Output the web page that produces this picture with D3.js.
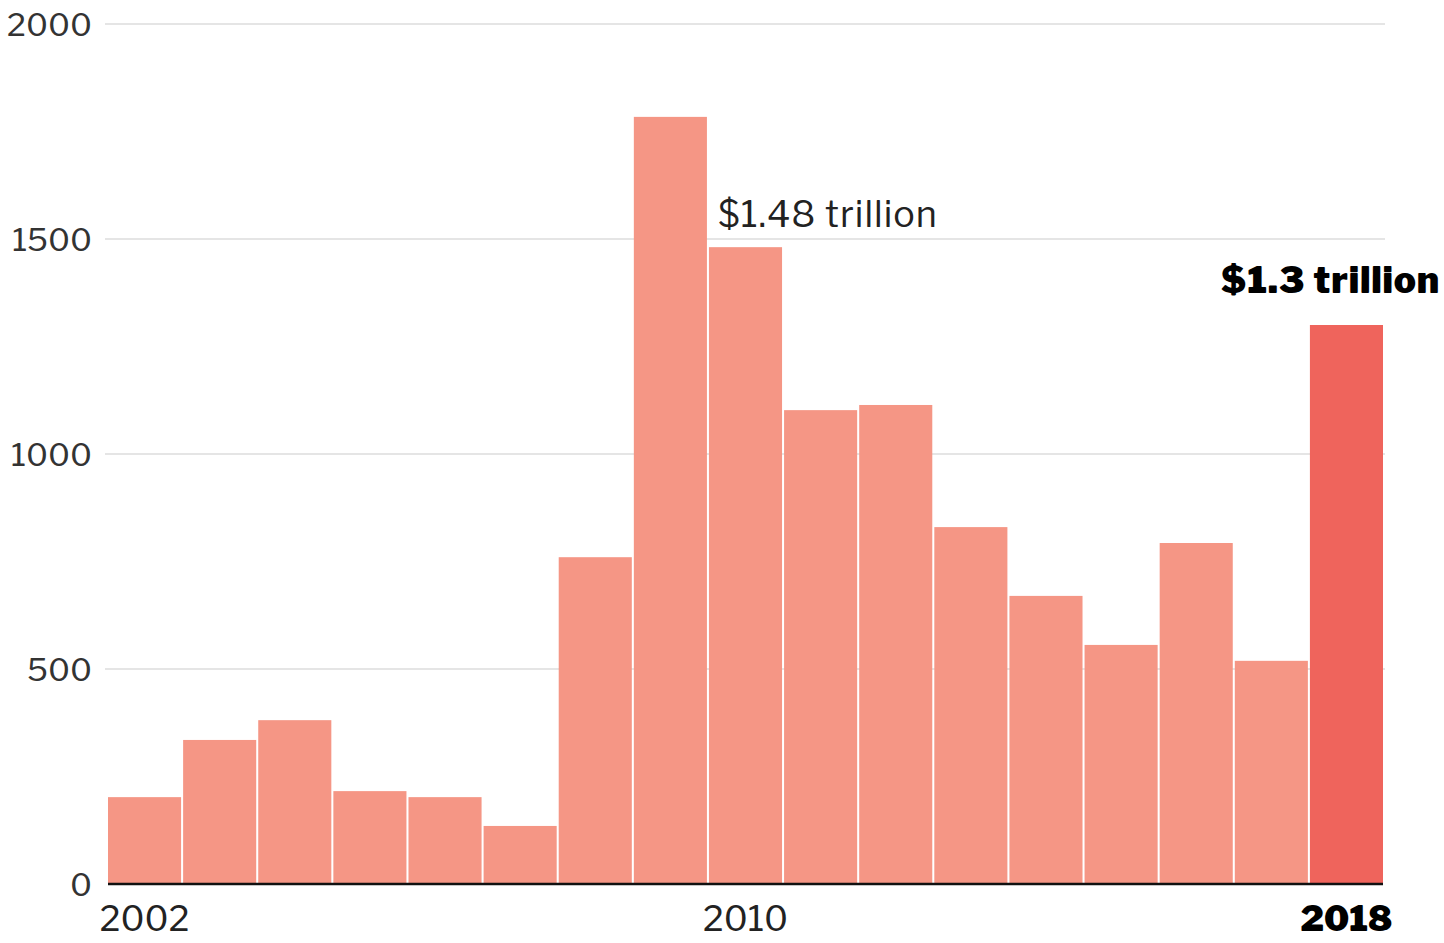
<!DOCTYPE html>
<html>
<head>
<meta charset="utf-8">
<script src="https://cdn.jsdelivr.net/npm/d3@7"></script>
<style>
  body { margin: 0; background: #fff; }
  svg { display: block; font-family: "Libre Franklin", "Roboto", "Noto Sans", sans-serif; }
</style>
</head>
<body>
<div id="chart"></div>
<script>
// Values in billions of dollars
const years = [2002, 2003, 2004, 2005, 2006, 2007, 2008, 2009, 2010, 2011, 2012, 2013, 2014, 2015, 2016, 2017, 2018];
const values = [202, 335, 381, 216, 202, 135, 760, 1784, 1481, 1102, 1114, 830, 670, 556, 793, 519, 1300];
const yTicks = [0, 500, 1000, 1500, 2000];
const xLabels = [2002, 2010, 2018];
const highlightYear = 2018;

const width = 1444, height = 943;
const margin = { top: 24, right: 61, bottom: 59, left: 108 };

const svg = d3.select('#chart')
  .append('svg')
  .attr('width', width)
  .attr('height', height);

// Scales
const x = d3.scaleBand()
  .domain(years)
  .range([margin.left, width - margin.right])
  .paddingInner(0.027)
  .paddingOuter(0);

const y = d3.scaleLinear()
  .domain([0, 2000])
  .range([height - margin.bottom, margin.top]);

// Gridlines + y labels
const grid = svg.append('g').attr('class', 'grid');
grid.selectAll('line')
  .data(yTicks.filter(d => d > 0))
  .enter()
  .append('line')
  .attr('x1', margin.left - 3)
  .attr('x2', width - margin.right + 2)
  .attr('y1', d => y(d))
  .attr('y2', d => y(d))
  .attr('stroke', '#dcdcdc')
  .attr('stroke-width', 1.5);

grid.selectAll('text')
  .data(yTicks)
  .enter()
  .append('text')
  .attr('x', 92)
  .attr('y', d => y(d))
  .attr('dy', '0.36em')
  .attr('text-anchor', 'end')
  .attr('fill', '#333')
  .style('font-size', '32px')
  .text(d => d);

// Bars
svg.append('g')
  .selectAll('rect')
  .data(years)
  .enter()
  .append('rect')
  .attr('x', d => x(d))
  .attr('width', x.bandwidth())
  .attr('y', (d, i) => y(values[i]))
  .attr('height', (d, i) => y(0) - y(values[i]))
  .attr('fill', d => d === highlightYear ? '#ef645c' : '#f59685');

// Baseline
svg.append('line')
  .attr('x1', margin.left)
  .attr('x2', width - margin.right)
  .attr('y1', y(0))
  .attr('y2', y(0))
  .attr('stroke', '#111')
  .attr('stroke-width', 2.5);

// X labels
svg.append('g')
  .selectAll('text')
  .data(xLabels)
  .enter()
  .append('text')
  .attr('x', d => x(d) + x.bandwidth() / 2)
  .attr('y', 931)
  .attr('text-anchor', 'middle')
  .attr('fill', d => d === highlightYear ? '#000' : '#222')
  .style('font-size', '35px')
  .style('font-weight', d => d === highlightYear ? 900 : 400)
  .text(d => d);

// Annotations
const i2010 = years.indexOf(2010);
svg.append('text')
  .attr('x', x(2010) + 9)
  .attr('y', y(values[i2010]) - 20)
  .attr('fill', '#222')
  .style('font-size', '36px')
  .style('letter-spacing', '1px')
  .text('$1.48 trillion');

const i2018 = years.indexOf(2018);
svg.append('text')
  .attr('x', 1440)
  .attr('y', y(values[i2018]) - 32)
  .attr('text-anchor', 'end')
  .attr('fill', '#000')
  .style('font-size', '37px')
  .style('font-weight', 900)
  .style('letter-spacing', '0.8px')
  .text('$1.3 trillion');
</script>
</body>
</html>
